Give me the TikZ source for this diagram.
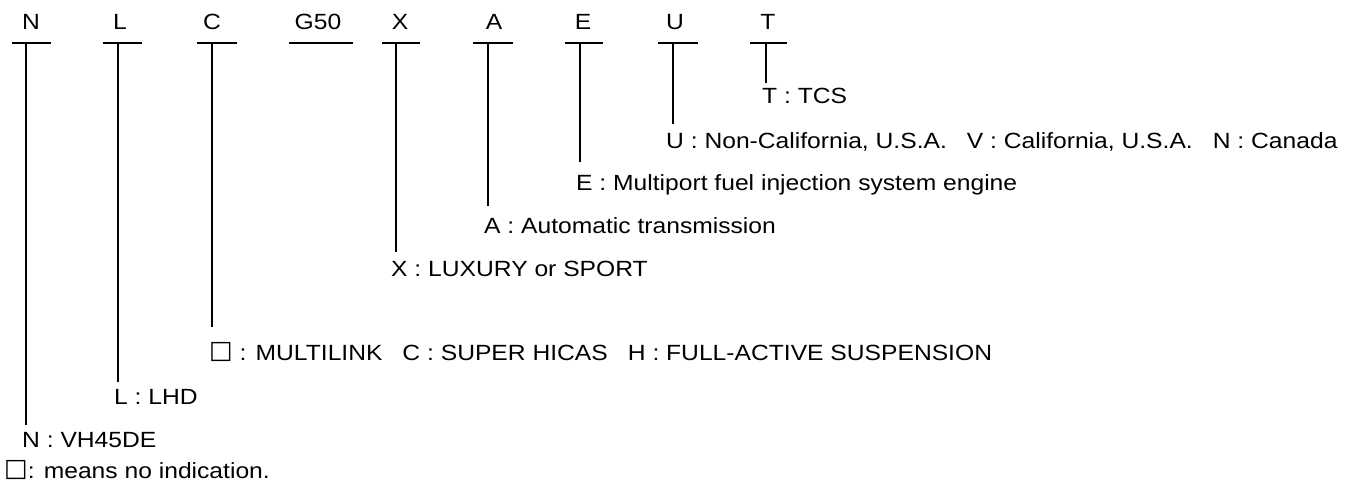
\documentclass[tikz,border=0pt]{standalone}
\usepackage{fontspec}
\setmainfont{Liberation Sans}[FakeStretch=1.12]
\newfontfamily\symfont{DejaVu Sans}
\newcommand\sqbox{\raisebox{2pt}{\symfont\fontsize{25}{28}\selectfont □}}
\newcommand\gapsp{\hspace{20pt}}
\begin{document}
\begin{tikzpicture}[x=1pt,y=-1pt,
  code/.style={font=\fontsize{22}{26}\selectfont, inner sep=0pt, anchor=base},
  lab/.style={font=\fontsize{22}{26}\selectfont, inner sep=0pt, anchor=base west},
  bar/.style={line width=1.6pt},
  lead/.style={line width=1.6pt}]
\useasboundingbox (0,0) rectangle (1348,489);
% code letters
\node[code] (cN) at (31,30) {N};
\node[code] (cL) at (120,30) {L};
\node[code] (cC) at (212,30) {C};
\node[code] (cG) at (318,30) {G50};
\node[code] (cX) at (400,30) {X};
\node[code] (cA) at (494,30) {A};
\node[code] (cE) at (583,30) {E};
\node[code] (cU) at (675,30) {U};
\node[code] (cT) at (768,30) {T};
% underlines
\draw[bar] (12,43) -- (51,43);
\draw[bar] (103,43) -- (142,43);
\draw[bar] (197,43) -- (237,43);
\draw[bar] (289,43) -- (353,43);
\draw[bar] (382,43) -- (420,43);
\draw[bar] (473,43) -- (513,43);
\draw[bar] (565,43) -- (603,43);
\draw[bar] (658,43) -- (698,43);
\draw[bar] (750,43) -- (787,43);
% lead start points on underlines
\coordinate (uN) at (26,43);
\coordinate (uL) at (118,43);
\coordinate (uC) at (212,43);
\coordinate (uX) at (396,43);
\coordinate (uA) at (488,43);
\coordinate (uE) at (580,43);
\coordinate (uU) at (673,43);
\coordinate (uT) at (766,43);
% lead end points
\coordinate (eN) at (26,425);
\coordinate (eL) at (118,382);
\coordinate (eC) at (212,327);
\coordinate (eX) at (396,252);
\coordinate (eA) at (488,206);
\coordinate (eE) at (580,162);
\coordinate (eU) at (673,124);
\coordinate (eT) at (766,83);
% labels
\node[lab] (lN) at (22,447) {N : VH45DE};
\node[lab] (lL) at (114,404) {L : LHD};
\node[lab] (lC) at (209,360) {\sqbox{} : MULTILINK\gapsp C : SUPER HICAS\gapsp H : FULL-ACTIVE SUSPENSION};
\node[lab] (lX) at (391,276) {X : LUXURY or SPORT};
\node[lab] (lA) at (484,233) {A : Automatic transmission};
\node[lab] (lE) at (576,190) {E : Multiport fuel injection system engine};
\node[lab] (lU) at (666,149) {U : Non-California, U.S.A.\gapsp V : California, U.S.A.\gapsp N : Canada};
\node[lab] (lT) at (762,104) {T : TCS};
\node[lab] (note) at (4,478) {\sqbox: means no indication.};
% leads
\foreach \k in {N,L,C,X,A,E,U,T} \draw[lead] (u\k) -- (e\k);
\end{tikzpicture}
\end{document}
